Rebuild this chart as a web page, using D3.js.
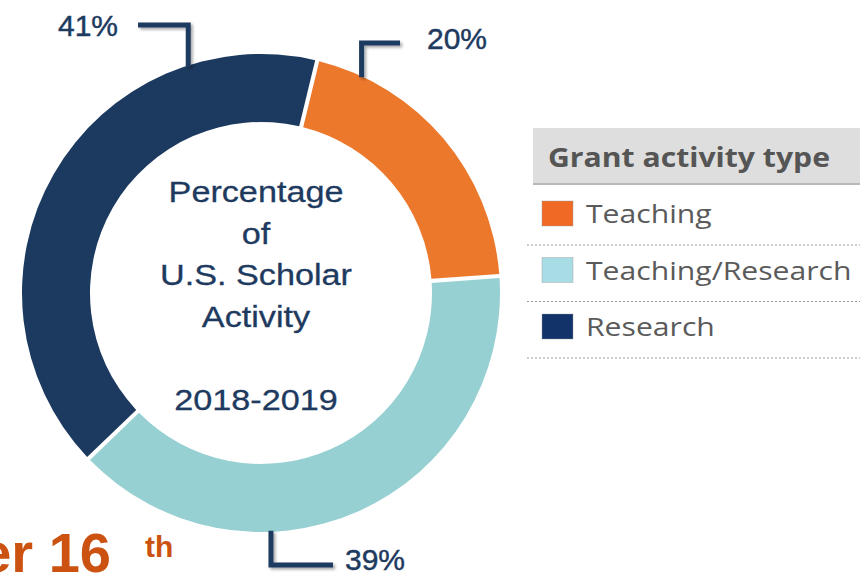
<!DOCTYPE html>
<html>
<head>
<meta charset="utf-8">
<script src="https://cdn.jsdelivr.net/npm/d3@7"></script>
<style>
  body { margin: 0; background: #fff; }
  svg { display: block; }
</style>
</head>
<body>
<div id="chart"></div>
<script>
(function() {
    const width = 860, height = 574;

    // Data
    const categories = ["Teaching", "Teaching/Research", "Research"];
    const values = [20, 39, 41];
    const colors = ["#ec782c", "#96d0d2", "#1c3a5f"];
    const legendColors = ["#f06a26", "#a9dde5", "#12336a"];
    const centerLines = ["Percentage", "of", "U.S. Scholar", "Activity", "", "2018-2019"];
    const legendTitle = "Grant activity type";

    const cx = 261, cy = 293;
    const outerR = 239, innerR = 171;
    const startDeg = 13.6;

    const svg = d3.select("#chart")
        .append("svg")
        .attr("width", width)
        .attr("height", height);

    const defs = svg.append("defs");
    const shadow = defs.append("filter")
        .attr("id", "shadow")
        .attr("x", "-20%").attr("y", "-20%")
        .attr("width", "140%").attr("height", "140%");
    shadow.append("feDropShadow")
        .attr("dx", 2).attr("dy", 2)
        .attr("stdDeviation", 1.5)
        .attr("flood-color", "#000")
        .attr("flood-opacity", 0.35);

    const data = categories.map((c, i) => ({name: c, value: values[i], color: colors[i]}));

    const pie = d3.pie()
        .sort(null)
        .value(d => d.value)
        .startAngle(startDeg * Math.PI / 180)
        .endAngle(startDeg * Math.PI / 180 + 2 * Math.PI)
        .padAngle(0.014);

    const arc = d3.arc()
        .innerRadius(innerR)
        .outerRadius(outerR);

    const g = svg.append("g")
        .attr("transform", `translate(${cx},${cy})`);

    g.selectAll("path")
        .data(pie(data))
        .enter()
        .append("path")
        .attr("d", arc)
        .attr("fill", d => d.data.color);

    // Centre text (slightly stretched, like the original)
    const centerG = svg.append("g")
        .attr("transform", `translate(256,0) scale(1.14,1)`);
    centerLines.forEach((t, i) => {
        if (!t) return;
        centerG.append("text")
            .attr("x", 0)
            .attr("y", 202 + i * 41.6)
            .attr("text-anchor", "middle")
            .style("font-family", "'Liberation Sans', Arial, sans-serif")
            .style("font-size", "30px")
            .style("fill", "#1e3a5f")
            .style("stroke", "#1e3a5f")
            .style("stroke-width", 0.3)
            .text(t);
    });

    // Callouts: anchor angle on ring, elbow y, end x, label position
    const callouts = [
        {i: 2, angle: -17.8, elbowY: 25, endX: 138, tx: 118, ty: 36, anchor: "end"},
        {i: 0, angle: 25, elbowY: 43, endX: 400, tx: 427, ty: 49, anchor: "start"},
        {i: 1, angle: 177.6, elbowY: 565, endX: 333, tx: 345, ty: 570, anchor: "start"}
    ];

    callouts.forEach(c => {
        const a = c.angle * Math.PI / 180;
        const x0 = cx + Math.sin(a) * (outerR - 1);
        const y0 = cy - Math.cos(a) * (outerR - 1);
        svg.append("path")
            .attr("d", d3.line()([[x0, y0], [x0, c.elbowY], [c.endX, c.elbowY]]))
            .attr("fill", "none")
            .attr("stroke", "#1f3b60")
            .attr("stroke-width", 5)
            .attr("stroke-linejoin", "miter")
            .attr("filter", "url(#shadow)");
        svg.append("text")
            .attr("x", c.tx)
            .attr("y", c.ty)
            .attr("text-anchor", c.anchor)
            .style("font-family", "'Liberation Sans', Arial, sans-serif")
            .style("font-size", "30px")
            .style("fill", "#1e3a5f")
            .style("stroke", "#1e3a5f")
            .style("stroke-width", 0.45)
            .text(values[c.i] + "%");
    });

    // Orange fragment bottom-left
    svg.append("text")
        .attr("x", 111)
        .attr("y", 572)
        .attr("text-anchor", "end")
        .style("font-family", "'Liberation Sans', Arial, sans-serif")
        .style("font-size", "56px")
        .style("font-weight", "bold")
        .style("fill", "#cb5210")
        .text("er 16");
    svg.append("text")
        .attr("x", 145)
        .attr("y", 557)
        .style("font-family", "'Liberation Sans', Arial, sans-serif")
        .style("font-size", "30px")
        .style("font-weight", "bold")
        .style("fill", "#cb5210")
        .text("th");

    // Legend
    const legend = svg.append("g");
    legend.append("rect")
        .attr("x", 533).attr("y", 128)
        .attr("width", 340).attr("height", 56)
        .attr("fill", "#dedede");
    legend.append("line")
        .attr("x1", 533).attr("x2", 860)
        .attr("y1", 184).attr("y2", 184)
        .attr("stroke", "#b8b8b8")
        .attr("stroke-width", 2);
    legend.append("text")
        .attr("transform", "translate(548,167) scale(1.16,1)")
        .style("font-family", "'Open Sans', sans-serif")
        .style("font-size", "26px")
        .style("font-weight", "bold")
        .style("fill", "#555")
        .text(legendTitle);

    categories.forEach((c, i) => {
        const row = legend.append("g")
            .attr("transform", `translate(0, ${201 + i * 56.5})`);
        row.append("rect")
            .attr("x", 542).attr("y", 0)
            .attr("width", 31).attr("height", 25)
            .attr("fill", legendColors[i])
            .attr("stroke", "#999")
            .attr("stroke-opacity", 0.4);
        row.append("text")
            .attr("transform", "translate(586,22) scale(1.16,1)")
            .style("font-family", "'Open Sans', sans-serif")
            .style("font-size", "26px")
            .style("fill", "#5a5a5a")
            .text(c);
        row.append("line")
            .attr("x1", 527).attr("x2", 860)
            .attr("y1", 44).attr("y2", 44)
            .attr("stroke", "#999")
            .attr("stroke-width", 1.2)
            .attr("stroke-dasharray", "2,2");
    });
})();
</script>
</body>
</html>
